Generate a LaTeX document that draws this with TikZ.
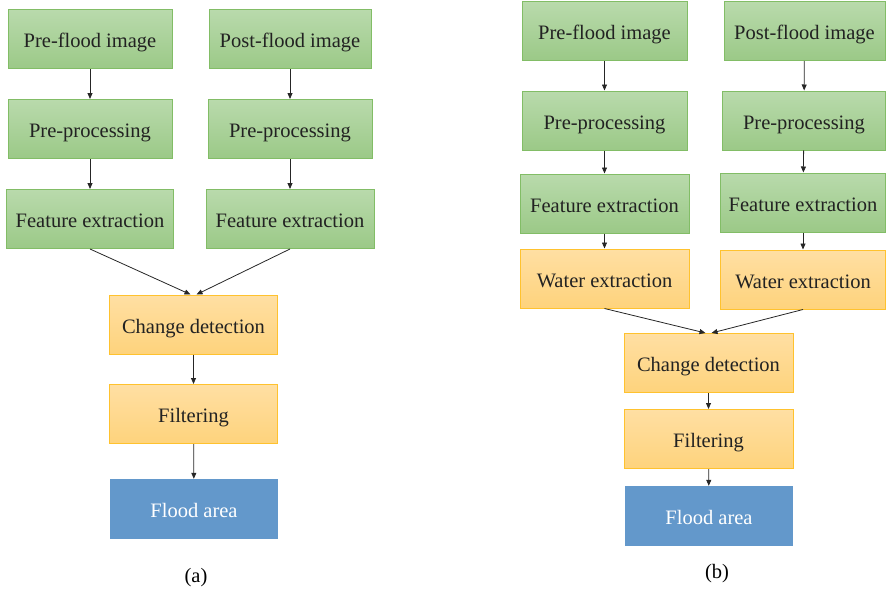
\documentclass[tikz,border=0pt]{standalone}
\usepackage{fontspec}
\setmainfont{Liberation Serif}
\usetikzlibrary{arrows.meta}
\definecolor{gtop}{HTML}{B9DAAC}
\definecolor{gbot}{HTML}{9BC987}
\definecolor{gline}{HTML}{82BD66}
\definecolor{otop}{HTML}{FFDFA3}
\definecolor{obot}{HTML}{FED37C}
\definecolor{oline}{HTML}{FFC22E}
\definecolor{bfill}{HTML}{6398CB}
\definecolor{txt}{HTML}{222222}
\begin{document}
\begin{tikzpicture}[x=1pt,y=-1pt,
  box/.style={minimum height=59pt,inner sep=0pt,text height=17pt,text depth=0pt,font=\fontsize{20.5}{23}\selectfont,text=txt},
  gbox/.style={box,draw=gline,line width=1pt,top color=gtop,bottom color=gbot},
  obox/.style={box,draw=oline,line width=1pt,top color=otop,bottom color=obot},
  bbox/.style={box,fill=bfill,text=white},
  arr/.style={-{Triangle[length=6pt,width=5pt]},line width=0.8pt,draw=black!85}]
\useasboundingbox (0,0) rectangle (886,594);
% (a)
\node[gbox,minimum width=164pt] (a1) at (90,39.5) {Pre-flood image};
\node[gbox,minimum width=162pt] (a2) at (290,39.5) {Post-flood image};
\node[gbox,minimum width=164pt] (a3) at (90,129) {Pre-processing};
\node[gbox,minimum width=164pt] (a4) at (290,129) {Pre-processing};
\node[gbox,minimum width=167pt] (a5) at (90,219) {Feature extraction};
\node[gbox,minimum width=168pt] (a6) at (290,219) {Feature extraction};
\node[obox,minimum width=168pt] (a7) at (193.5,324.5) {Change detection};
\node[obox,minimum width=168pt] (a8) at (193.5,414) {Filtering};
\node[bbox,minimum width=168pt,minimum height=60pt] (a9) at (194,509) {Flood area};
\node[font=\fontsize{20.5}{23}\selectfont] (la) at (196,578) {(a)};
\draw[arr] (a1) -- (a3);
\draw[arr] (a2) -- (a4);
\draw[arr] (a3) -- (a5);
\draw[arr] (a4) -- (a6);
\draw[arr] (a5.south) -- ([xshift=-3pt]a7.north);
\draw[arr] (a6.south) -- ([xshift=3pt]a7.north);
\draw[arr] (a7) -- (a8);
\draw[arr] (a8) -- (a9);
% (b)
\node[gbox,minimum width=165pt] (b1) at (604.5,31) {Pre-flood image};
\node[gbox,minimum width=161pt] (b2) at (804.5,31) {Post-flood image};
\node[gbox,minimum width=165pt] (b3) at (604.5,120.5) {Pre-processing};
\node[gbox,minimum width=163pt] (b4) at (804,120.5) {Pre-processing};
\node[gbox,minimum width=169pt] (b5) at (604.5,203.5) {Feature extraction};
\node[gbox,minimum width=165pt] (b6) at (803,202.5) {Feature extraction};
\node[obox,minimum width=169pt] (b7) at (604.5,278.5) {Water extraction};
\node[obox,minimum width=165pt] (b8) at (803,279.5) {Water extraction};
\node[obox,minimum width=169pt] (b9) at (708.5,363) {Change detection};
\node[obox,minimum width=169pt] (b10) at (708.5,439) {Filtering};
\node[bbox,minimum width=168pt,minimum height=60pt] (b11) at (709,516) {Flood area};
\node[font=\fontsize{20.5}{23}\selectfont] (lb) at (717,574) {(b)};
\draw[arr] (b1) -- (b3);
\draw[arr] (b2) -- (b4);
\draw[arr] (b3) -- (b5);
\draw[arr] (b4) -- (b6);
\draw[arr] (b5) -- (b7);
\draw[arr] (b6) -- (b8);
\draw[arr] (b7.south) -- ([xshift=-3pt]b9.north);
\draw[arr] (b8.south) -- ([xshift=3pt]b9.north);
\draw[arr] (b9) -- (b10);
\draw[arr] (b10) -- (b11);
\end{tikzpicture}
\end{document}
